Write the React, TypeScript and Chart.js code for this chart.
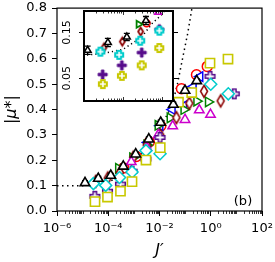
import React, { useEffect, useRef } from "react";
import { Chart, registerables } from "chart.js";
Chart.register(...registerables);

const FONT = "'DejaVu Sans', 'Liberation Sans', sans-serif";

// ---- axis ticks ----
const xTickValues = [1e-6, 1e-4, 1e-2, 1, 100];
const xTickLabels = ["10⁻⁶", "10⁻⁴", "10⁻²", "10⁰", "10²"];
const yTickValues = [0, 0.1, 0.2, 0.3, 0.4, 0.5, 0.6, 0.7, 0.8];
const yTickLabels = ["0.0", "0.1", "0.2", "0.3", "0.4", "0.5", "0.6", "0.7", "0.8"];
const insetYTickValues = [0.05, 0.15];
const insetYTickLabels = ["0.05", "0.15"];

// ---- data: J' and |mu*| ----
const blackJ = [1.24e-5, 4.09e-5, 1.25e-4, 3.86e-4, 1.18e-3, 3.82e-3, 1.11e-2, 3.46e-2, 9.9e-2, 0.283];
const blackMu = [0.111, 0.128, 0.14, 0.176, 0.224, 0.283, 0.349, 0.42, 0.475, 0.513];
const blackErr = [0.009, 0.009, 0.008, 0.009, 0.009, 0.009, 0.009, 0.009, 0.009, 0.009];

const yellowJ = [3.04e-5, 9.35e-5, 3.0e-4, 8.45e-4, 2.97e-3, 1.07e-2, 5.5e-2, 0.181, 0.936, 4.71];
const yellowMu = [0.037, 0.055, 0.078, 0.116, 0.201, 0.25, 0.429, 0.467, 0.583, 0.599];

const cyanJ = [2.63e-5, 7.94e-5, 2.75e-4, 8.5e-4, 2.95e-3, 1.05e-2, 1.0, 4.84];
const cyanMu = [0.108, 0.101, 0.132, 0.154, 0.238, 0.226, 0.5, 0.462];

const purpleJ = [3.0e-5, 9.3e-5, 3.0e-4, 8.5e-4, 2.95e-3, 1.05e-2, 0.935, 8.3];
const purpleMu = [0.058, 0.078, 0.106, 0.157, 0.205, 0.29, 0.531, 0.462];

const magentaJ = [7.9e-4, 3.2e-3, 8.9e-3, 3.27e-2, 9.9e-2, 0.357, 0.977];
const magentaMu = [0.194, 0.25, 0.3, 0.335, 0.36, 0.398, 0.38];

const darkredJ = [3.24e-5, 9.55e-5, 2.82e-4, 9.55e-4, 3.16e-3, 1.07e-2, 4.57e-2, 0.146, 0.546, 2.44];
const darkredMu = [0.117, 0.13, 0.152, 0.212, 0.26, 0.3, 0.368, 0.425, 0.472, 0.434];

const greenJ = [2.5e-4, 8.9e-4, 3.16e-3, 8.7e-3, 2.57e-2, 8.9e-2, 0.283, 0.8];
const greenMu = [0.168, 0.21, 0.26, 0.338, 0.367, 0.4, 0.433, 0.43];

const blueJ = [3.5e-3, 1.05e-2, 3.16e-2, 8.9e-2, 0.209, 0.38];
const blueMu = [0.27, 0.336, 0.4, 0.415, 0.49, 0.53];

const redJ = [4.0e-4, 1.25e-3, 4.0e-3, 1.12e-2, 7.2e-2, 0.278, 0.733];
const redMu = [0.17, 0.215, 0.272, 0.335, 0.482, 0.537, 0.57];

const dotJ = [1e-6, 1e-5, 3e-5, 1e-4, 3e-4, 5.6e-4, 1e-3, 3e-3, 1e-2, 3.16e-2, 5e-2, 7.9e-2, 0.126, 0.178, 0.209];
const dotMu = [0.1, 0.1, 0.104, 0.113, 0.14, 0.17, 0.19, 0.25, 0.32, 0.42, 0.5, 0.6, 0.7, 0.79, 0.84];

const C = {
  black: "#000000",
  yellow: "#c8c800",
  cyan: "#00cccc",
  purple: "#550a8a",
  magenta: "#cc00cc",
  darkred: "#8b0000",
  green: "#008000",
  blue: "#0000ff",
  red: "#ff0000",
};

const pts = (js: number[], mus: number[]) => js.map((j, i) => ({ x: j, y: mus[i] }));

function mk(w: number, h: number, draw: (c: CanvasRenderingContext2D, W: number, H: number) => void) {
  const cv = document.createElement("canvas");
  cv.width = w;
  cv.height = h;
  const c = cv.getContext("2d")!;
  draw(c, w, h);
  return cv;
}

function thinDiamond(color: string, w: number, h: number, lw: number) {
  const W = Math.ceil(w + lw * 2 + 2);
  const H = Math.ceil(h + lw * 2 + 2);
  return mk(W, H, (c) => {
    const cx = W / 2, cy = H / 2;
    c.beginPath();
    c.moveTo(cx, cy - h / 2);
    c.lineTo(cx + w / 2, cy);
    c.lineTo(cx, cy + h / 2);
    c.lineTo(cx - w / 2, cy);
    c.closePath();
    c.fillStyle = "#fff";
    c.fill();
    c.strokeStyle = color;
    c.lineWidth = lw;
    c.stroke();
  });
}

function plusMarker(color: string, s: number, a: number, lw: number, fill: string) {
  const W = Math.ceil(2 * s + lw * 2 + 2);
  return mk(W, W, (c) => {
    const o = W / 2;
    const p = [[-a, -s], [a, -s], [a, -a], [s, -a], [s, a], [a, a], [a, s], [-a, s], [-a, a], [-s, a], [-s, -a], [-a, -a]];
    c.beginPath();
    p.forEach(([x, y], i) => (i ? c.lineTo(o + x, o + y) : c.moveTo(o + x, o + y)));
    c.closePath();
    c.fillStyle = fill;
    c.fill();
    c.strokeStyle = color;
    c.lineWidth = lw;
    c.stroke();
  });
}

function drawErrorBars(chart: any, cap: number, lw: number) {
  const { ctx, chartArea: a, scales } = chart;
  ctx.save();
  ctx.beginPath();
  ctx.rect(a.left, a.top, a.right - a.left, a.bottom - a.top);
  ctx.clip();
  ctx.strokeStyle = "#000";
  ctx.lineWidth = lw;
  blackJ.forEach((j, i) => {
    const px = scales.x.getPixelForValue(j);
    const y1 = scales.y.getPixelForValue(blackMu[i] - blackErr[i]);
    const y2 = scales.y.getPixelForValue(blackMu[i] + blackErr[i]);
    ctx.beginPath();
    ctx.moveTo(px, y1);
    ctx.lineTo(px, y2);
    ctx.moveTo(px - cap, y1);
    ctx.lineTo(px + cap, y1);
    ctx.moveTo(px - cap, y2);
    ctx.lineTo(px + cap, y2);
    ctx.stroke();
  });
  ctx.restore();
}

// draw error bars just before the black (top-most, order 0) dataset
const errBeforeBlack = (cap: number, lw: number) => ({
  id: "errBeforeBlack",
  beforeDatasetDraw(chart: any, args: any) {
    if (args.meta && args.meta.order === 0) drawErrorBars(chart, cap, lw);
  },
});

const mainDecor = {
  id: "mainDecor",
  afterDraw(chart: any) {
    const { ctx, chartArea: a, scales } = chart;
    ctx.save();
    ctx.strokeStyle = "#000";
    ctx.lineWidth = 1.2;
    ctx.strokeRect(a.left, a.top, a.right - a.left, a.bottom - a.top);
    // minor ticks on log x axis
    ctx.lineWidth = 0.8;
    for (let n = -6; n <= 1; n++) {
      for (let k = 1; k <= 9; k++) {
        if (k === 1 && n % 2 === 0) continue;
        const v = k * Math.pow(10, n);
        const px = Math.round(scales.x.getPixelForValue(v)) + 0.5;
        ctx.beginPath();
        ctx.moveTo(px, a.bottom);
        ctx.lineTo(px, a.bottom + 3);
        ctx.stroke();
      }
    }
    ctx.fillStyle = "#000";
    ctx.font = `13px ${FONT}`;
    ctx.textAlign = "center";
    ctx.textBaseline = "middle";
    ctx.fillText("(b)", a.right - 19, a.bottom - 9);
    ctx.restore();
  },
};

const insetDecor = {
  id: "insetDecor",
  beforeDatasetsDraw(chart: any) {
    const { ctx, chartArea: a } = chart;
    ctx.save();
    ctx.fillStyle = "#fff";
    ctx.fillRect(a.left, a.top, a.right - a.left, a.bottom - a.top);
    ctx.restore();
  },
  afterDraw(chart: any) {
    const { ctx, chartArea: a, scales } = chart;
    ctx.save();
    ctx.strokeStyle = "#000";
    ctx.lineWidth = 0.8;
    // x ticks, inward, top and bottom
    for (let n = -5; n <= -3; n++) {
      for (let k = 1; k <= 9; k++) {
        const v = k * Math.pow(10, n);
        if (v < scales.x.min || v > scales.x.max) continue;
        const px = Math.round(scales.x.getPixelForValue(v)) + 0.5;
        const len = k === 1 ? 4 : 2.5;
        ctx.beginPath();
        ctx.moveTo(px, a.bottom);
        ctx.lineTo(px, a.bottom - len);
        ctx.moveTo(px, a.top);
        ctx.lineTo(px, a.top + len);
        ctx.stroke();
      }
    }
    // y ticks outward, both sides
    ctx.lineWidth = 1;
    insetYTickValues.forEach((v) => {
      const py = Math.round(scales.y.getPixelForValue(v)) + 0.5;
      ctx.beginPath();
      ctx.moveTo(a.left - 5, py);
      ctx.lineTo(a.left, py);
      ctx.moveTo(a.right, py);
      ctx.lineTo(a.right + 5, py);
      ctx.stroke();
    });
    // frame
    ctx.lineWidth = 2;
    ctx.strokeRect(a.left, a.top, a.right - a.left, a.bottom - a.top);
    // rotated y labels
    ctx.fillStyle = "#000";
    ctx.font = `11px ${FONT}`;
    ctx.textAlign = "center";
    ctx.textBaseline = "middle";
    insetYTickValues.forEach((v, i) => {
      const py = scales.y.getPixelForValue(v);
      ctx.save();
      ctx.translate(a.left - 17, py);
      ctx.rotate(-Math.PI / 2);
      ctx.fillText(insetYTickLabels[i], 0, 0);
      ctx.restore();
    });
    ctx.restore();
  },
};

export default function App() {
  const mainRef = useRef<HTMLCanvasElement>(null);
  const insetRef = useRef<HTMLCanvasElement>(null);

  useEffect(() => {
    const white = "#ffffff";
    const sc = (data: any[], extra: any) => ({
      data,
      showLine: false,
      clip: 0,
      pointBackgroundColor: white,
      ...extra,
    });

    const main = new Chart(mainRef.current!, {
      type: "scatter",
      data: {
        datasets: [
          sc(pts(blackJ, blackMu), { pointStyle: "triangle", pointRadius: 5.5, pointBorderWidth: 1.6, pointBorderColor: C.black, order: 0 }),
          sc(pts(yellowJ, yellowMu), { pointStyle: "rect", pointRadius: 6.5, pointBorderWidth: 1.6, pointBorderColor: C.yellow, order: 1 }),
          sc(pts(cyanJ, cyanMu), { pointStyle: "rectRot", pointRadius: 6, pointBorderWidth: 1.5, pointBorderColor: C.cyan, order: 2 }),
          sc(pts(purpleJ, purpleMu), { pointStyle: plusMarker(C.purple, 4.8, 1.7, 1.5, white), pointRadius: 5, order: 3 }),
          sc(pts(magentaJ, magentaMu), { pointStyle: "triangle", pointRadius: 5.5, pointBorderWidth: 1.5, pointBorderColor: C.magenta, order: 4 }),
          sc(pts(darkredJ, darkredMu), { pointStyle: thinDiamond(C.darkred, 7, 12, 1.5), pointRadius: 5, order: 5 }),
          sc(pts(greenJ, greenMu), { pointStyle: "triangle", pointRotation: 90, pointRadius: 5.5, pointBorderWidth: 1.5, pointBorderColor: C.green, order: 6 }),
          sc(pts(blueJ, blueMu), { pointStyle: "triangle", pointRotation: -90, pointRadius: 5.5, pointBorderWidth: 1.5, pointBorderColor: C.blue, order: 7 }),
          sc(pts(redJ, redMu), { pointStyle: "circle", pointRadius: 5, pointBorderWidth: 1.5, pointBorderColor: C.red, order: 8 }),
          {
            data: pts(dotJ, dotMu),
            showLine: true,
            clip: 0,
            pointRadius: 0,
            borderColor: "#000",
            borderWidth: 1.5,
            borderDash: [1.5, 3.5],
            tension: 0,
            order: 9,
          },
        ],
      },
      options: {
        responsive: false,
        animation: false,
        devicePixelRatio: 1,
        events: [],
        layout: { padding: { left: 0, right: 13, top: 6, bottom: 0 } },
        plugins: { legend: { display: false }, tooltip: { enabled: false } },
        scales: {
          x: {
            type: "logarithmic",
            position: "bottom",
            min: 1e-6,
            max: 100,
            afterBuildTicks: (s: any) => {
              s.ticks = xTickValues.map((v) => ({ value: v }));
            },
            afterFit: (s: any) => {
              s.height = 51;
              s.paddingLeft = 0;
              s.paddingRight = 0;
            },
            ticks: {
              autoSkip: false,
              maxRotation: 0,
              minRotation: 0,
              padding: 5,
              color: "#000",
              font: { family: FONT, size: 13 },
              callback: (_v: any, i: number) => xTickLabels[i],
            },
            grid: { display: true, drawOnChartArea: false, drawTicks: true, tickLength: 5, tickWidth: 1, tickColor: "#000" },
            border: { display: false },
            title: { display: true, text: "J′", color: "#000", font: { family: FONT, size: 16, style: "italic" }, padding: { top: 0, bottom: 2 } },
          },
          y: {
            type: "linear",
            min: 0,
            max: 0.8,
            afterBuildTicks: (s: any) => {
              s.ticks = yTickValues.map((v) => ({ value: v }));
            },
            afterFit: (s: any) => {
              s.width = 57;
              s.paddingTop = 0;
              s.paddingBottom = 0;
            },
            ticks: {
              padding: 5,
              color: "#000",
              font: { family: FONT, size: 13 },
              callback: (_v: any, i: number) => yTickLabels[i],
            },
            grid: { display: true, drawOnChartArea: false, drawTicks: true, tickLength: 5, tickWidth: 1, tickColor: "#000" },
            border: { display: false },
            title: { display: true, text: "|μ*|", color: "#000", font: { family: FONT, size: 16, style: "italic" }, padding: { top: 2, bottom: 0 } },
          },
        },
      },
      plugins: [errBeforeBlack(3, 1.2), mainDecor],
    } as any);

    const inset = new Chart(insetRef.current!, {
      type: "scatter",
      data: {
        datasets: [
          sc(pts(blackJ, blackMu), { pointStyle: "triangle", pointRadius: 4, pointBorderWidth: 1.5, pointBorderColor: C.black, order: 0 }),
          sc(pts(yellowJ, yellowMu), { pointStyle: plusMarker(C.yellow, 4, 1.8, 2, white), pointRadius: 4, order: 1 }),
          sc(pts(cyanJ, cyanMu), { pointStyle: plusMarker(C.cyan, 4, 1.8, 2, white), pointRadius: 4, order: 2 }),
          sc(pts(purpleJ, purpleMu), { pointStyle: plusMarker(C.purple, 4.5, 1.3, 1, C.purple), pointRadius: 4, order: 3 }),
          sc(pts(magentaJ, magentaMu), { pointStyle: "triangle", pointRadius: 4, pointBorderWidth: 1.5, pointBorderColor: C.magenta, order: 4 }),
          sc(pts(darkredJ, darkredMu), { pointStyle: thinDiamond(C.darkred, 5, 8, 1.8), pointRadius: 4, order: 5 }),
          sc(pts(greenJ, greenMu), { pointStyle: "triangle", pointRotation: 90, pointRadius: 4, pointBorderWidth: 1.8, pointBorderColor: C.green, order: 6 }),
          sc(pts(blueJ, blueMu), { pointStyle: "triangle", pointRotation: -90, pointRadius: 4, pointBorderWidth: 1.5, pointBorderColor: C.blue, order: 7 }),
          sc(pts(redJ, redMu), { pointStyle: "circle", pointRadius: 3.5, pointBorderWidth: 1.5, pointBorderColor: C.red, order: 8 }),
          {
            data: pts(dotJ, dotMu),
            showLine: true,
            clip: 0,
            pointRadius: 0,
            borderColor: "#000",
            borderWidth: 1.5,
            borderDash: [1.2, 3],
            tension: 0,
            order: 9,
          },
        ],
      },
      options: {
        responsive: false,
        animation: false,
        devicePixelRatio: 1,
        events: [],
        layout: { padding: { left: 29, right: 7, top: 11, bottom: 9 } },
        plugins: { legend: { display: false }, tooltip: { enabled: false } },
        scales: {
          x: { type: "logarithmic", min: 1e-5, max: 1.9e-3, display: false },
          y: { type: "linear", min: 0, max: 0.197, display: false },
        },
      },
      plugins: [errBeforeBlack(3, 1.3), insetDecor],
    } as any);

    return () => {
      main.destroy();
      inset.destroy();
    };
  }, []);

  return (
    <div style={{ position: "absolute", left: 0, top: 0, width: 275, height: 262, background: "#fff" }}>
      <canvas ref={mainRef} width={275} height={262} style={{ position: "absolute", left: 0, top: 0, width: 275, height: 262 }} />
      <canvas ref={insetRef} width={125} height={110} style={{ position: "absolute", left: 55, top: 0, width: 125, height: 110 }} />
    </div>
  );
}
